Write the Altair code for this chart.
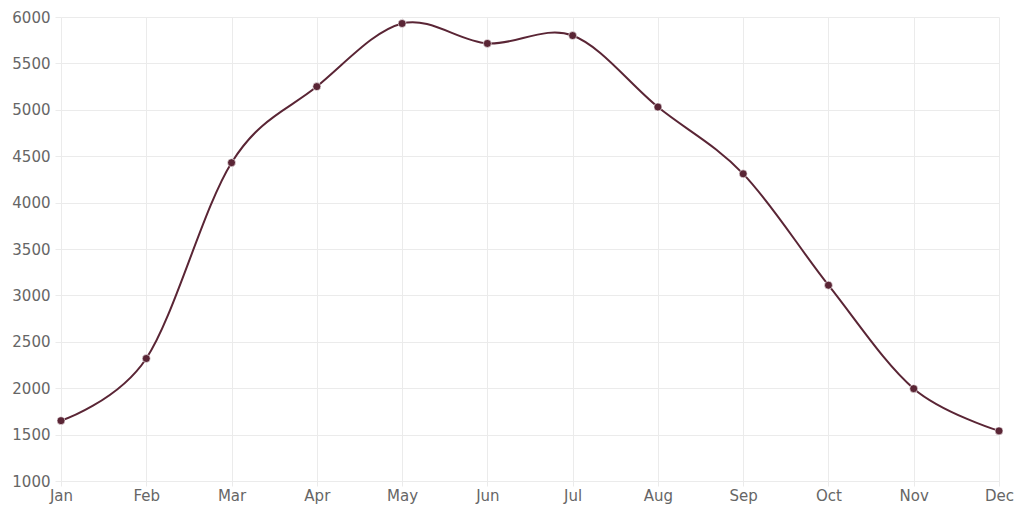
import altair as alt
import pandas as pd

months = ["Jan", "Feb", "Mar", "Apr", "May", "Jun", "Jul", "Aug", "Sep", "Oct", "Nov", "Dec"]
values = [1650, 2320, 4430, 5250, 5930, 5715, 5800, 5030, 4310, 3110, 1995, 1540]

df = pd.DataFrame({"month": months, "value": values})

color = "#5a2535"
font = "DejaVu Sans"
grid = "#ebebeb"

x = alt.X("month:N", sort=months, title=None,
          scale=alt.Scale(type="point", padding=0),
          axis=alt.Axis(labelAngle=0, grid=True, gridColor=grid, domain=False,
                        ticks=True, tickSize=5, tickColor=grid,
                        labelColor="#666666", labelFontSize=15, labelFont=font,
                        labelPadding=2))
y = alt.Y("value:Q", title=None,
          scale=alt.Scale(domain=[1000, 6000], nice=False, zero=False),
          axis=alt.Axis(values=list(range(1000, 6001, 500)), format="d", grid=True, gridColor=grid,
                        domain=False, ticks=True, tickSize=6, tickColor=grid,
                        labelColor="#666666", labelFontSize=15,
                        labelFont=font, labelPadding=5))

line = alt.Chart(df).mark_line(interpolate="cardinal", tension=0, color=color, strokeWidth=2).encode(x=x, y=y)
pts = alt.Chart(df).mark_point(filled=True, size=64, color=color, opacity=1,
                               stroke="white", strokeWidth=0.6).encode(x=x, y=y)

chart = alt.layer(line, pts).properties(
    width=938, height=464,
    autosize=alt.AutoSizeParams(type="none"),
    padding={"left": 53, "top": 9, "right": 17, "bottom": 24},
).configure_view(stroke=None)

chart.save("out.html", embed_options={"renderer": "svg", "actions": False})
